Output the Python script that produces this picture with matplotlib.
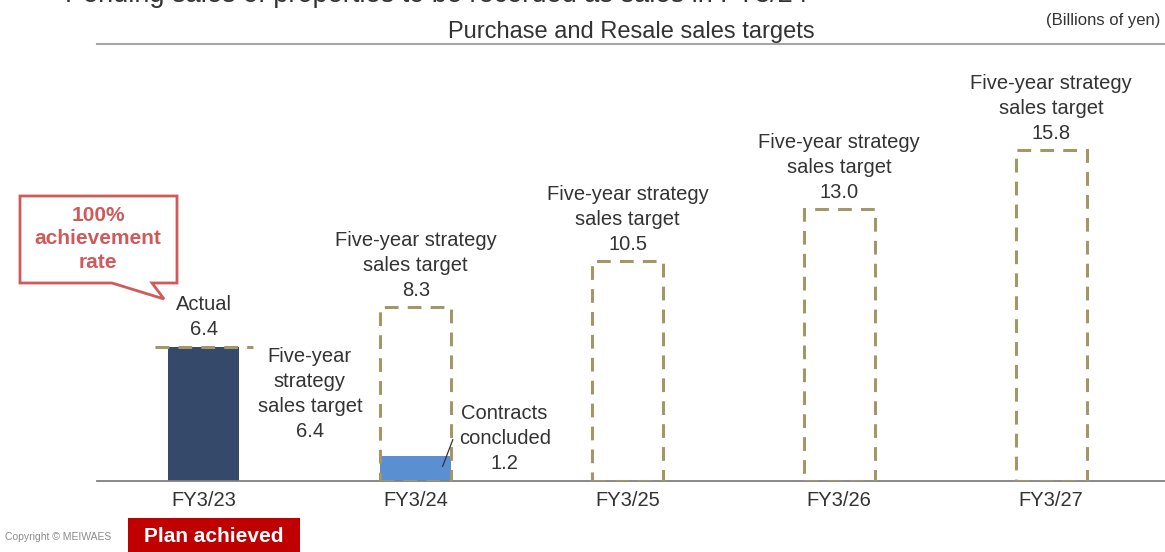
import matplotlib
matplotlib.use("Agg")
import matplotlib.pyplot as plt
from matplotlib.patches import Rectangle, Polygon
import numpy as np

plt.rcParams['font.family'] = ['Liberation Sans', 'DejaVu Sans']

categories = ["FY3/23", "FY3/24", "FY3/25", "FY3/26", "FY3/27"]
targets = [6.4, 8.3, 10.5, 13.0, 15.8]
actual_fy23 = 6.4
contracts_fy24 = 1.2

TXT = "#333333"
NAVY = "#354a6b"
BLUE = "#5a8fd2"
KHAKI = "#a39768"
RED = "#c00000"
CALLOUT = "#d05a5a"
FS = 14.5
LS = 1.4

W, H = 1165, 552
fig = plt.figure(figsize=(W / 100, H / 100), dpi=100)

def fx(px):
    return px / W

def fy(py):
    return 1 - py / H

ax = fig.add_axes([fx(97), fy(481), fx(1165) - fx(97), fy(44) - fy(481)])
x = np.arange(len(categories))
bw = 0.335
ax.set_xlim(-0.505, 4.538)
ax.set_ylim(0, 20.87)

for s in ["left", "right"]:
    ax.spines[s].set_visible(False)
ax.spines["top"].set_color("#a6a6a6")
ax.spines["top"].set_linewidth(1.5)
ax.spines["bottom"].set_color("#808080")
ax.spines["bottom"].set_linewidth(1.3)
ax.set_yticks([])
ax.set_xticks(x)
ax.set_xticklabels(categories, fontsize=FS, color=TXT)
ax.tick_params(axis="x", length=0, pad=7)

# actual bar FY3/23
ax.bar(x[0], actual_fy23, width=bw, color=NAVY, zorder=2)
# contracts concluded FY3/24
ax.bar(x[1], contracts_fy24, width=bw, color=BLUE, zorder=2)

dash = (0, (4.5, 3))
# dashed target boxes FY3/24 onwards
for i in range(1, len(categories)):
    ax.bar(x[i], targets[i], width=bw, facecolor="none", edgecolor=KHAKI,
           linewidth=2.2, linestyle=dash, zorder=3)
    ax.annotate(f"Five-year strategy\nsales target\n{targets[i]:.1f}",
                xy=(x[i], targets[i]), xytext=(0, 5), textcoords="offset points",
                ha="center", va="bottom", fontsize=FS, color=TXT, linespacing=LS)

# target line on FY3/23
ax.plot([x[0] - 0.23, x[0] + 0.23], [targets[0], targets[0]], color=KHAKI,
        linewidth=2.2, linestyle=dash, zorder=3)

ax.annotate(f"Actual\n{actual_fy23:.1f}", xy=(x[0], actual_fy23), xytext=(0, 6),
            textcoords="offset points", ha="center", va="bottom", fontsize=FS,
            color=TXT, linespacing=LS)
ax.annotate(f"Five-year\nstrategy\nsales target\n{targets[0]:.1f}",
            xy=(x[0] + 0.5, targets[0]), xytext=(0, 0), textcoords="offset points",
            ha="center", va="top", fontsize=FS, color=TXT, linespacing=LS)

ax.annotate(f"Contracts\nconcluded\n{contracts_fy24:.1f}",
            xy=(x[1] + 0.42, 0), xytext=(0, 6), textcoords="offset points",
            ha="center", va="bottom", fontsize=FS, color=TXT, linespacing=LS)
ax.plot([x[1] + 0.127, x[1] + 0.175], [0.7, 1.97], color=TXT, linewidth=0.9, zorder=4)

# callout
call = Polygon([[fx(20), fy(196)], [fx(177), fy(196)], [fx(177), fy(283)],
                [fx(152), fy(283)], [fx(164), fy(299)], [fx(112), fy(283)],
                [fx(20), fy(283)]], closed=True, transform=fig.transFigure,
               facecolor="white", edgecolor=CALLOUT, linewidth=2)
fig.patches.append(call)
fig.text(fx(98), fy(239), "100%\nachievement\nrate", ha="center", va="center",
         fontsize=15, color=CALLOUT, fontweight="bold", linespacing=1.32)

# titles
fig.text(fx(631), fy(32), "Purchase and Resale sales targets", ha="center",
         va="center", fontsize=17, color=TXT)
fig.text(fx(1160), fy(21), "(Billions of yen)", ha="right", va="center",
         fontsize=12, color=TXT)
fig.text(fx(65), fy(2.5), "Pending sales of properties to be recorded as sales in FY3/24",
         ha="left", va="baseline", fontsize=19.5, color=TXT)

# footer
fig.text(fx(5), fy(537), "Copyright \u00a9 MEIWAES",
         ha="left", va="center", fontsize=7.5, color="#8c8c8c", zorder=1)
pa = Rectangle((fx(128), fy(552)), fx(300) - fx(128), fy(518) - fy(552),
               transform=fig.transFigure, facecolor=RED, edgecolor="none", zorder=5)
fig.patches.append(pa)
fig.text(fx(214), fy(536), "Plan achieved", ha="center", va="center", fontsize=15,
         color="white", fontweight="bold", zorder=6)

fig.savefig("out.png", dpi=100)
